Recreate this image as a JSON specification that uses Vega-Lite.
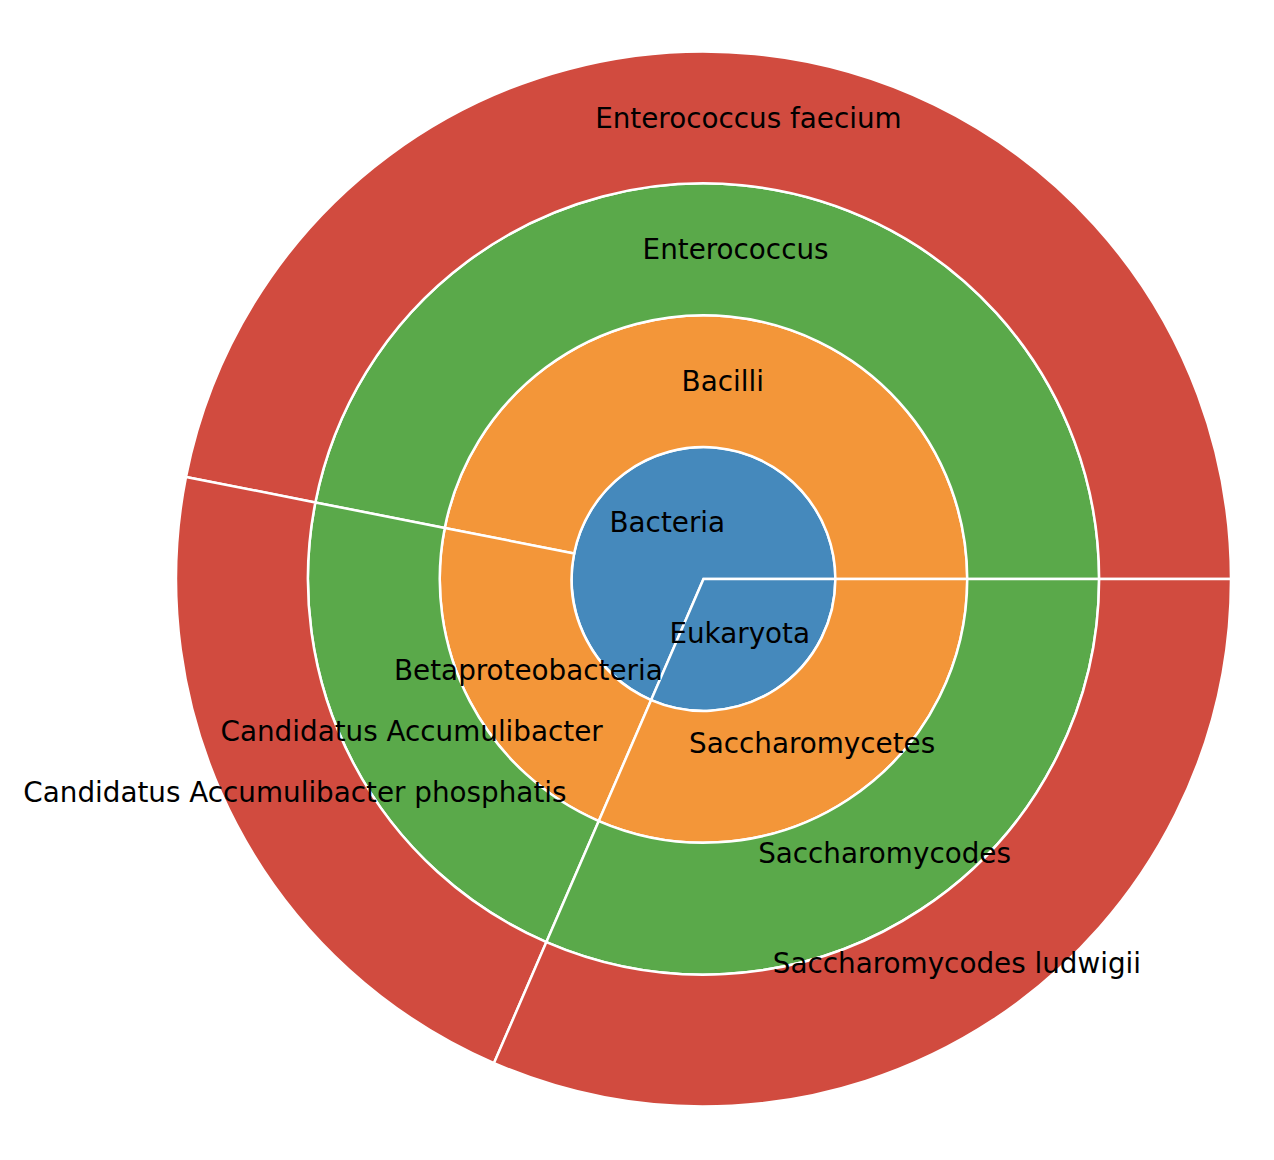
{
  "$schema": "https://vega.github.io/schema/vega-lite/v6.json",
  "width": 1139,
  "height": 1158,
  "autosize": {"type": "none"},
  "padding": {"left": 134, "top": 0, "right": 1, "bottom": 2},
  "background": "white",
  "config": {"view": {"stroke": null}},
  "data": {
    "values": [
      {"name": "Bacteria", "level": 1, "value": 68.5, "order": 1},
      {"name": "Eukaryota", "level": 1, "value": 31.5, "order": 2},
      {"name": "Bacilli", "level": 2, "value": 46.9, "order": 1},
      {"name": "Betaproteobacteria", "level": 2, "value": 21.6, "order": 2},
      {"name": "Saccharomycetes", "level": 2, "value": 31.5, "order": 3},
      {"name": "Enterococcus", "level": 3, "value": 46.9, "order": 1},
      {"name": "Candidatus Accumulibacter", "level": 3, "value": 21.6, "order": 2},
      {"name": "Saccharomycodes", "level": 3, "value": 31.5, "order": 3},
      {"name": "Enterococcus faecium", "level": 4, "value": 46.9, "order": 1},
      {"name": "Candidatus Accumulibacter phosphatis", "level": 4, "value": 21.6, "order": 2},
      {"name": "Saccharomycodes ludwigii", "level": 4, "value": 31.5, "order": 3}
    ]
  },
  "transform": [
    {"stack": "value", "groupby": ["level"], "sort": [{"field": "order", "order": "ascending"}], "as": ["t0", "t1"]},
    {"calculate": "(datum.t0 + datum.t1) / 2", "as": "tm"},
    {"calculate": "datum.level - 1", "as": "rin"},
    {"calculate": "datum.level - 0.5", "as": "rm"}
  ],
  "layer": [
    {
      "mark": {"type": "arc", "stroke": "white", "strokeWidth": 2.5},
      "encoding": {
        "theta": {"field": "t0", "type": "quantitative", "stack": null, "scale": {"domain": [0, 100], "range": [1.5707963, -4.712389]}},
        "theta2": {"field": "t1"},
        "radius": {"field": "level", "type": "quantitative", "scale": {"type": "linear", "domain": [0, 4], "range": [0, 527.5], "zero": true}},
        "radius2": {"field": "rin"},
        "color": {"field": "level", "type": "ordinal", "legend": null, "scale": {"domain": [1, 2, 3, 4], "range": ["#4589bc", "#f39639", "#5aa94a", "#d14b3f"]}}
      }
    },
    {
      "mark": {"type": "text", "fontSize": 27.8, "font": "DejaVu Sans", "align": "center", "baseline": "middle", "color": "black", "dy": 0.5},
      "encoding": {
        "theta": {"field": "tm", "type": "quantitative", "stack": null, "scale": {"domain": [0, 100], "range": [1.5707963, -4.712389]}},
        "radius": {"field": "rm", "type": "quantitative", "scale": {"type": "linear", "domain": [0, 4], "range": [0, 527.5], "zero": true}},
        "text": {"field": "name", "type": "nominal"}
      }
    }
  ]
}
